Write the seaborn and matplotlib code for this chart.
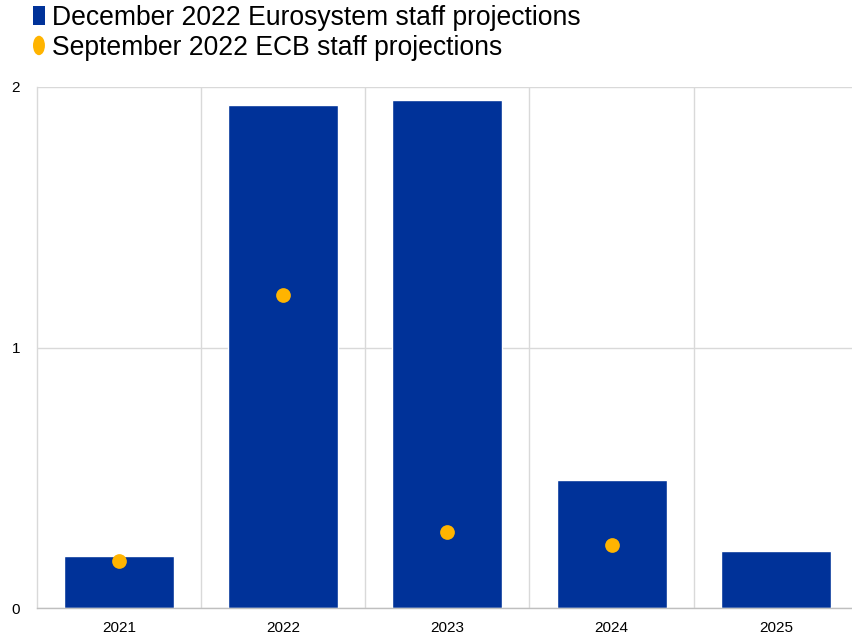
import numpy as np
import pandas as pd
import matplotlib
matplotlib.use("Agg")
import matplotlib.pyplot as plt
from matplotlib.patches import Patch, Ellipse
from matplotlib.legend_handler import HandlerPatch
from matplotlib.ticker import FixedLocator
import seaborn as sns

# Data
years = ["2021", "2022", "2023", "2024", "2025"]
december_2022 = [0.20, 1.93, 1.95, 0.49, 0.22]
sept_years = ["2021", "2022", "2023", "2024"]
september_2022 = [0.18, 1.20, 0.29, 0.24]
y_ticks = [0, 1, 2]

label_dec = "December 2022 Eurosystem staff projections"
label_sep = "September 2022 ECB staff projections"

BLUE = "#003299"
YELLOW = "#FFB400"
GRID = "#D9D9D9"

sns.set_style("white")
plt.rcParams["font.family"] = ["Liberation Sans", "DejaVu Sans"]
plt.rcParams["text.color"] = "black"

fig = plt.figure(figsize=(8.52, 6.35), dpi=100)
ax = fig.add_axes([36.7 / 852, 1 - 608 / 635, (858 - 36.7) / 852, (608 - 87) / 635])

dec_df = pd.DataFrame({"year": years, "value": december_2022})
sep_df = pd.DataFrame({"year": sept_years, "value": september_2022})

sns.barplot(data=dec_df, x="year", y="value", order=years, color=BLUE,
            saturation=1, width=0.67, ax=ax, zorder=2)
sns.stripplot(data=sep_df, x="year", y="value", order=years, color=YELLOW,
              jitter=False, size=10.6, linewidth=0, ax=ax, zorder=3)

ax.set_xlim(-0.5, len(years) - 0.5)
ax.set_ylim(0, 2)
ax.set_yticks(y_ticks)
ax.set_yticklabels([str(t) for t in y_ticks])
ax.set_xlabel("")
ax.set_ylabel("")

# Category separators as vertical grid lines
ax.xaxis.set_minor_locator(FixedLocator(np.arange(0.5, len(years) - 0.5, 1)))
ax.grid(axis="x", which="minor", color=GRID, linewidth=1, zorder=0)
ax.grid(axis="y", which="major", color=GRID, linewidth=1, zorder=0)
ax.set_axisbelow(True)

for s in ["top", "right"]:
    ax.spines[s].set_visible(False)
ax.spines["left"].set_color(GRID)
ax.spines["left"].set_linewidth(1)
ax.spines["bottom"].set_color("#BFBFBF")
ax.spines["bottom"].set_linewidth(1)

ax.tick_params(axis="both", which="both", length=0, labelsize=11,
               labelcolor="black")
ax.tick_params(axis="x", pad=9)
ax.tick_params(axis="y", pad=12)


class HandlerEllipse(HandlerPatch):
    def create_artists(self, legend, orig_handle, xdescent, ydescent,
                       width, height, fontsize, trans):
        center = (0.5 * width - xdescent, 0.5 * height - ydescent)
        p = Ellipse(xy=center, width=width, height=height)
        self.update_prop(p, orig_handle, legend)
        p.set_transform(trans)
        return [p]


h_dec = Patch(facecolor=BLUE, edgecolor="none")
h_sep = Patch(facecolor=YELLOW, edgecolor="none")
leg = fig.legend([h_dec, h_sep], [label_dec, label_sep],
                 handler_map={h_sep: HandlerEllipse()},
                 loc="upper left", bbox_to_anchor=(33 / 852, 1 - 5 / 635),
                 frameon=False, fontsize=19.1, handlelength=0.45,
                 handleheight=0.75, handletextpad=0.25, labelspacing=0.14,
                 borderaxespad=0, borderpad=0, labelcolor="black")

fig.savefig("out.png", dpi=100)
